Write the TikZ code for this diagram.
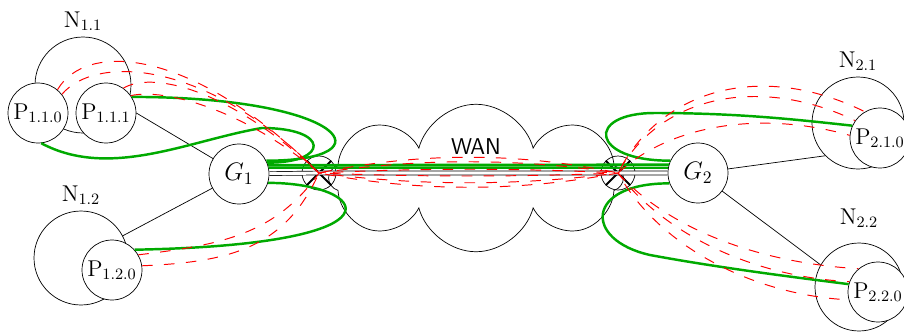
\documentclass[tikz,border=0pt]{standalone}
\usetikzlibrary{shapes.symbols}
\definecolor{pathgreen}{RGB}{0,170,0}
\tikzset{
  netnode/.style={circle, draw, minimum size=1.84cm},
  hostnode/.style={circle, draw, fill=white, minimum size=1.2cm, inner sep=0pt},
  gwnode/.style={circle, draw, fill=white, minimum size=1.2cm, inner sep=0pt, font=\Large},
  swnode/.style={circle, draw, minimum size=0.68cm},
  xcross/.style={line width=1.1pt},
  greenpath/.style={draw=pathgreen, line width=1.4pt},
  redpath/.style={draw=red, line width=0.55pt, dash pattern=on 6pt off 6.5pt}
}
\begin{document}
\begin{tikzpicture}[x=0.02cm, y=-0.02cm, font=\fontsize{13}{15}\selectfont]
\useasboundingbox (0,0) rectangle (904,332);
\node[netnode, minimum size=1.92cm, label=above:{N$_{1.1}$}] (N11) at (83,85) {};
\node[netnode, minimum size=1.88cm, label=above:{N$_{1.2}$}] (N12) at (81,258) {};
\node[netnode, label=above:{N$_{2.1}$}] (N21) at (858,123) {};
\node[netnode, minimum size=1.76cm, label={[label distance=5pt]above:{N$_{2.2}$}}] (N22) at (859,287) {};
\node[hostnode] (P110) at (38,113) {P$_{1.1.0}$};
\node[hostnode] (P111) at (106,113) {P$_{1.1.1}$};
\node[hostnode] (P120) at (112,270) {P$_{1.2.0}$};
\node[hostnode] (P210) at (880,138) {P$_{2.1.0}$};
\node[hostnode] (P220) at (878,292) {P$_{2.2.0}$};
\node[gwnode] (G1) at (239,174) {$G_1$};
\node[gwnode] (G2) at (698,173) {$G_2$};
\node[swnode] (sw1) at (319,173) {};
\node[swnode] (sw2) at (618,173) {};
\node[cloud, draw, cloud puffs=8, aspect=1.9, minimum width=5.9cm, minimum height=2.95cm,
  label={[anchor=center, yshift=-0.86cm]north:\sffamily WAN}] (wan) at (476,178) {};
\draw[xcross] (sw1.north west) -- (sw1.south east) (sw1.north east) -- (sw1.south west);
\draw[xcross] (sw2.north west) -- (sw2.south east) (sw2.north east) -- (sw2.south west);
\path[draw]
(P111.east) edge (G1)
(N12) edge (G1)
(G2) edge (N21.south west) edge (N22.150)
;
\draw[double, double distance=1.8pt] (G1) -- (sw1.center) -- (sw2.center) -- (G2);
% routes through the gateways
\draw[greenpath] (G1.17) -- (G2.164);
\draw[greenpath] (G1.12) -- (G2.170);
\draw[greenpath] (P111.32) .. controls +(215,0) and +(125,0) .. (G1.26);
\draw[greenpath] (P110.276) .. controls (110,180) and (190,140) .. (262,128) .. controls (330,128) and (330,163) .. (G1.22);
\draw[greenpath] (P120.42) .. controls +(280,-5) and +(100,0) .. (G1.343);
\draw[greenpath] (G2.156) .. controls (590,161) and (585,113) .. (655,113) .. controls (740,113) and (800,120) .. (P210.156);
\draw[greenpath] (G2.200) .. controls (585,183) and (583,240) .. (650,255) .. controls (720,268) and (800,278) .. (P220.165);
% routes through the switches
\draw[redpath] (P110.50) .. controls (85,42) and (190,45) .. (sw1.center)
  .. controls +(100,-21) and +(-100,-21) .. (sw2.center)
  .. controls (660,90) and (760,60) .. (P210.120);
\draw[redpath] (P110.38) .. controls (95,55) and (205,58) .. (sw1.center)
  .. controls +(100,13) and +(-100,13) .. (sw2.center)
  .. controls (665,225) and (750,262) .. (P220.130);
\draw[redpath] (P111.55) .. controls (150,72) and (225,85) .. (sw1.center)
  .. controls +(100,-15) and +(-100,-15) .. (sw2.center)
  .. controls (660,95) and (760,75) .. (P210.145);
\draw[redpath] (P111.35) .. controls (165,88) and (245,110) .. (sw1.center)
  .. controls +(100,4) and +(-100,4) .. (sw2.center)
  .. controls (665,235) and (755,277) .. (P220.160);
\draw[redpath] (P120.30) .. controls (220,245) and (275,235) .. (sw1.center)
  .. controls +(100,-5) and +(-100,-5) .. (sw2.center)
  .. controls (670,125) and (760,110) .. (P210.175);
\draw[redpath] (P120.8) .. controls (230,262) and (285,248) .. (sw1.center)
  .. controls +(100,19) and +(-100,19) .. (sw2.center)
  .. controls (660,248) and (755,295) .. (P220.195);
\end{tikzpicture}
\end{document}
